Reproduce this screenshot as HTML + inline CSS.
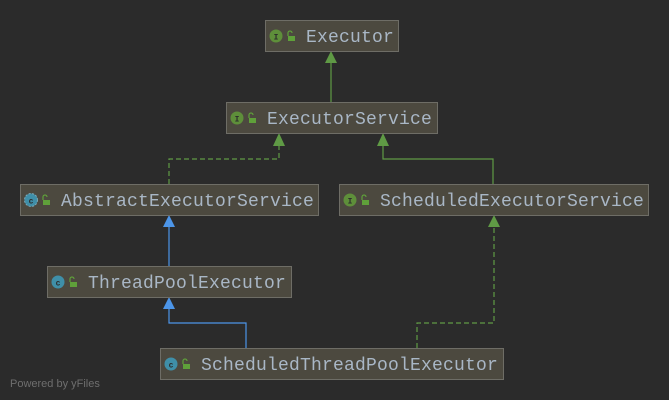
<!DOCTYPE html>
<html><head><meta charset="utf-8"><style>
html,body{margin:0;padding:0;background:#2b2b2b;}
svg{display:block;}
text{font-family:"Liberation Mono","DejaVu Sans Mono",monospace;}
</style></head><body>
<svg width="669" height="400" viewBox="0 0 669 400" xmlns="http://www.w3.org/2000/svg">
<rect width="669" height="400" fill="#2b2b2b"/>
<g stroke-width="1.2" fill="none">
<line x1="331" y1="102" x2="331" y2="60" stroke="#5f9a45"/>
<polyline points="169,184 169,159 279,159 279,142" stroke="#5f9a45" stroke-dasharray="5,3"/>
<polyline points="493,184 493,159 383,159 383,142" stroke="#5f9a45"/>
<line x1="169" y1="266" x2="169" y2="224" stroke="#4c95e8"/>
<polyline points="246,348 246,323 169,323 169,306" stroke="#4c95e8"/>
<polyline points="417,348 417,323 494,323 494,224" stroke="#5f9a45" stroke-dasharray="5,3"/>
</g>
<g>
<polygon points="331,51 325,63 337,63" fill="#5f9a45"/>
<polygon points="279,133 273,146 285,146" fill="#5f9a45"/>
<polygon points="383,133 377,146 389,146" fill="#5f9a45"/>
<polygon points="169,215 163,227 175,227" fill="#4c95e8"/>
<polygon points="169,297 163,309 175,309" fill="#4c95e8"/>
<polygon points="494,215 488,227 500,227" fill="#5f9a45"/>
</g>
<g stroke="#6e6d66" stroke-width="1" fill="#4c493f">
<rect x="265.5" y="20.5" width="133" height="31"/>
<rect x="226.5" y="102.5" width="211" height="31"/>
<rect x="20.5" y="184.5" width="298" height="31"/>
<rect x="339.5" y="184.5" width="309" height="31"/>
<rect x="47.5" y="266.5" width="244" height="31"/>
<rect x="160.5" y="348.5" width="343" height="31"/>
</g>
<g>
<circle cx="276" cy="36" r="6.5" fill="#5e8f3a"/><text x="276" y="39.5" font-size="8" fill="#2b2b2b" text-anchor="middle" font-weight="bold">I</text>
<circle cx="237" cy="118" r="6.5" fill="#5e8f3a"/><text x="237" y="121.5" font-size="8" fill="#2b2b2b" text-anchor="middle" font-weight="bold">I</text>
<circle cx="350" cy="200" r="6.5" fill="#5e8f3a"/><text x="350" y="203.5" font-size="8" fill="#2b2b2b" text-anchor="middle" font-weight="bold">I</text>
<circle cx="31" cy="200" r="6.5" fill="#3f8fa8" stroke="#7aa8b8" stroke-width="1" stroke-dasharray="2,1.5"/><text x="31" y="203.5" font-size="8" fill="#2b2b2b" text-anchor="middle" font-weight="bold">c</text>
<circle cx="58" cy="282" r="6.5" fill="#3f8fa8"/><text x="58" y="285.5" font-size="8" fill="#2b2b2b" text-anchor="middle" font-weight="bold">c</text>
<circle cx="171" cy="364" r="6.5" fill="#3f8fa8"/><text x="171" y="367.5" font-size="8" fill="#2b2b2b" text-anchor="middle" font-weight="bold">c</text>
</g>
<g fill="#5fa03a" stroke="#5fa03a" stroke-width="1.2">
<rect x="288" y="36" width="7" height="5" stroke="none"/><path d="M288 36 v-3 a2 2 0 0 1 4 0" fill="none"/>
<rect x="249" y="118" width="7" height="5" stroke="none"/><path d="M249 118 v-3 a2 2 0 0 1 4 0" fill="none"/>
<rect x="362" y="200" width="7" height="5" stroke="none"/><path d="M362 200 v-3 a2 2 0 0 1 4 0" fill="none"/>
<rect x="43" y="200" width="7" height="5" stroke="none"/><path d="M43 200 v-3 a2 2 0 0 1 4 0" fill="none"/>
<rect x="70" y="282" width="7" height="5" stroke="none"/><path d="M70 282 v-3 a2 2 0 0 1 4 0" fill="none"/>
<rect x="183" y="364" width="7" height="5" stroke="none"/><path d="M183 364 v-3 a2 2 0 0 1 4 0" fill="none"/>
</g>
<g font-size="18" fill="#a9b7c6" letter-spacing="0.2">
<text x="306" y="42">Executor</text>
<text x="267" y="124">ExecutorService</text>
<text x="61" y="206">AbstractExecutorService</text>
<text x="380" y="206">ScheduledExecutorService</text>
<text x="88" y="288">ThreadPoolExecutor</text>
<text x="201" y="370">ScheduledThreadPoolExecutor</text>
</g>
<text x="10" y="387" font-size="11" fill="#6e6e6e" style="font-family:'Liberation Sans',sans-serif">Powered by yFiles</text>
</svg>
</body></html>
